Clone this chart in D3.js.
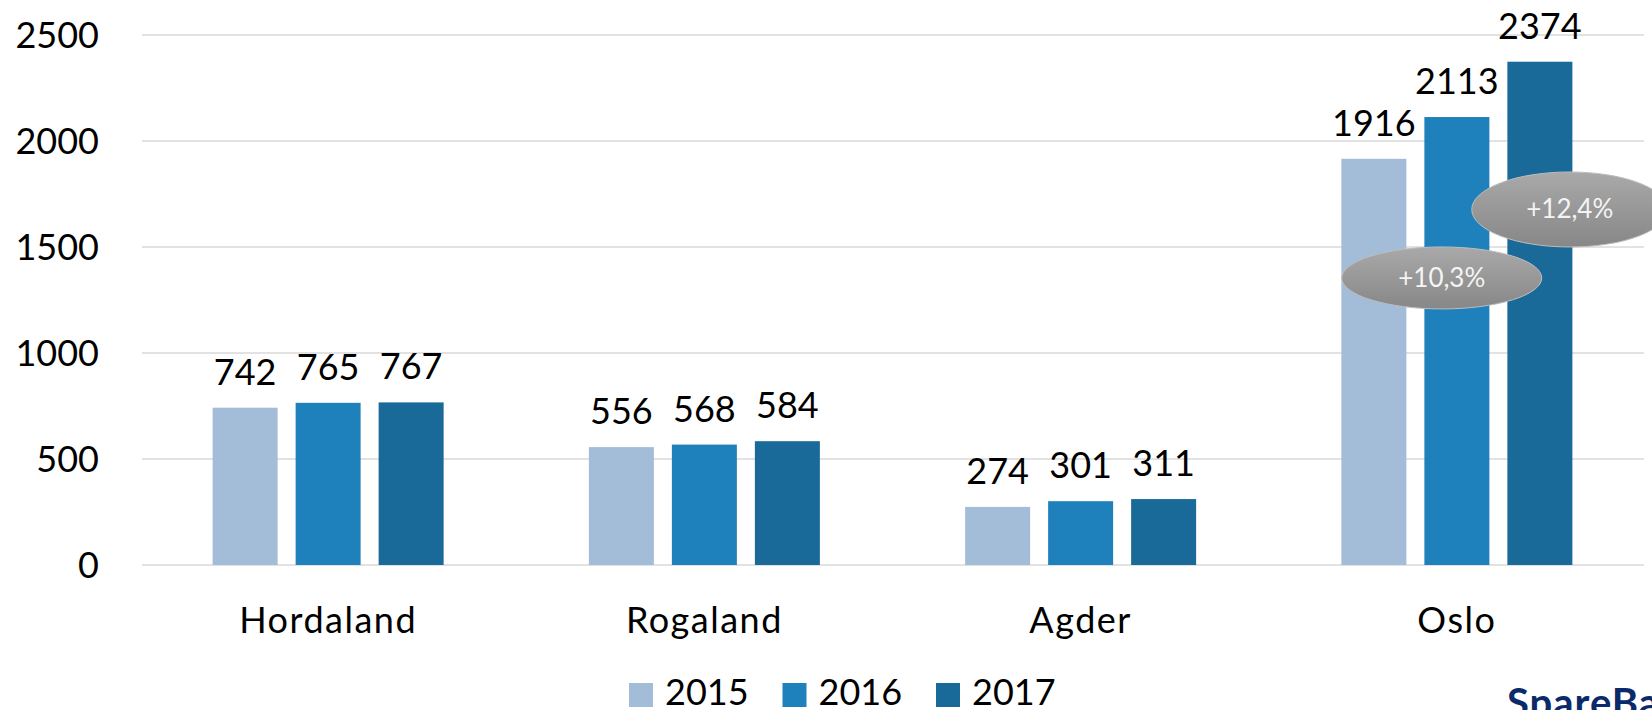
<!DOCTYPE html>
<html>
<head>
<meta charset="utf-8">
<script src="https://cdn.jsdelivr.net/npm/d3@7"></script>
<style>
  html, body { margin: 0; padding: 0; background: #fff; overflow: hidden; }
  svg { display: block; }
</style>
</head>
<body>
<div id="chart"></div>
<script>
// Data
const categories = ['Hordaland', 'Rogaland', 'Agder', 'Oslo'];
const years = ['2015', '2016', '2017'];
const values2015 = [742, 556, 274, 1916];
const values2016 = [765, 568, 301, 2113];
const values2017 = [767, 584, 311, 2374];
const yTicks = [0, 500, 1000, 1500, 2000, 2500];
const yearColors = ['#a3bcd7', '#1f81bc', '#1a6a99'];
// growth bubbles on Oslo: label and the value at the bubble centre
const growthLabels = ['+10,3%', '+12,4%'];
const growthValues = [1354, 1677];

const W = 1652, H = 710;
const font = 'Lato, "Open Sans", sans-serif';

const series = years.map((yr, i) => ({
  year: yr,
  color: yearColors[i],
  values: [values2015, values2016, values2017][i]
}));

const svg = d3.select('#chart')
  .append('svg')
  .attr('width', W)
  .attr('height', H)
  .attr('viewBox', `0 0 ${W} ${H}`);

// Scales
const x0 = d3.scaleBand().domain(categories).range([140, 1645]).padding(0);
const groupW = 231;
const x1 = d3.scaleBand()
  .domain(years)
  .range([(x0.bandwidth() - groupW) / 2, (x0.bandwidth() + groupW) / 2])
  .paddingInner(18 / 83)
  .paddingOuter(0);
const y = d3.scaleLinear().domain([0, 2500]).range([565, 35]);

// Gridlines
svg.append('g')
  .selectAll('line')
  .data(yTicks)
  .enter()
  .append('line')
  .attr('x1', 142)
  .attr('x2', 1644)
  .attr('y1', (d) => y(d))
  .attr('y2', (d) => y(d))
  .attr('stroke', '#d9d9d9')
  .attr('stroke-width', 1.5);

// Y tick labels
svg.append('g')
  .selectAll('text')
  .data(yTicks)
  .enter()
  .append('text')
  .attr('x', 99)
  .attr('y', (d) => y(d) + 13)
  .attr('text-anchor', 'end')
  .attr('font-family', font)
  .attr('font-size', '36px')
  .attr('fill', '#000')
  .text((d) => d);

// Bars
const groups = svg.append('g')
  .selectAll('g')
  .data(categories)
  .enter()
  .append('g')
  .attr('transform', (d) => `translate(${x0(d)},0)`);

const cells = groups.selectAll('g')
  .data((cat, ci) => series.map((s) => ({ cat, year: s.year, color: s.color, value: s.values[ci] })))
  .enter()
  .append('g');

cells.append('rect')
  .attr('x', (d) => x1(d.year))
  .attr('y', (d) => y(d.value))
  .attr('width', x1.bandwidth())
  .attr('height', (d) => y(0) - y(d.value))
  .attr('fill', (d) => d.color);

// Value labels
cells.append('text')
  .attr('x', (d) => x1(d.year) + x1.bandwidth() / 2)
  .attr('y', (d) => y(d.value) - 23)
  .attr('text-anchor', 'middle')
  .attr('font-family', font)
  .attr('font-size', '36px')
  .attr('fill', '#000')
  .text((d) => d.value);

// Category labels
svg.append('g')
  .selectAll('text')
  .data(categories)
  .enter()
  .append('text')
  .attr('x', (d) => x0(d) + x0.bandwidth() / 2)
  .attr('y', 633)
  .attr('text-anchor', 'middle')
  .attr('font-family', font)
  .attr('font-size', '36px')
  .attr('letter-spacing', '1.5px')
  .attr('fill', '#000')
  .text((d) => d);

// Growth bubbles
const defs = svg.append('defs');
const grad = defs.append('linearGradient')
  .attr('id', 'bubbleGrad')
  .attr('x1', 0).attr('y1', 0).attr('x2', 0).attr('y2', 1);
grad.append('stop').attr('offset', '0%').attr('stop-color', '#a9a9a9');
grad.append('stop').attr('offset', '100%').attr('stop-color', '#878787');

const oslo = x0('Oslo');
const bubbles = [
  { label: growthLabels[0], value: growthValues[0], cx: oslo + 173, rx: 100, ry: 31 },
  { label: growthLabels[1], value: growthValues[1], cx: oslo + 301, rx: 98, ry: 37.5 }
];

const bub = svg.append('g')
  .selectAll('g')
  .data(bubbles)
  .enter()
  .append('g')
  .attr('transform', (d) => `translate(${d.cx},${y(d.value)})`);

bub.append('ellipse')
  .attr('rx', (d) => d.rx)
  .attr('ry', (d) => d.ry)
  .attr('fill', 'url(#bubbleGrad)')
  .attr('stroke', '#bdbdbd')
  .attr('stroke-width', 1);

bub.append('text')
  .attr('y', 9)
  .attr('text-anchor', 'middle')
  .attr('font-family', font)
  .attr('font-size', '26px')
  .attr('fill', '#f4f4f4')
  .text((d) => d.label);

// Legend
const legend = svg.append('g')
  .selectAll('g')
  .data(series)
  .enter()
  .append('g')
  .attr('transform', (d, i) => `translate(${629 + i * 153.5},0)`);

legend.append('rect')
  .attr('x', 0)
  .attr('y', 683)
  .attr('width', 24)
  .attr('height', 24)
  .attr('fill', (d) => d.color);

legend.append('text')
  .attr('x', 36)
  .attr('y', 705)
  .attr('font-family', font)
  .attr('font-size', '36px')
  .attr('fill', '#000')
  .text((d) => d.year);

// Logo, cut off at the corner
svg.append('text')
  .attr('x', 1507)
  .attr('y', 717)
  .attr('font-family', font)
  .attr('font-weight', 'bold')
  .attr('font-size', '40px')
  .attr('letter-spacing', '1px')
  .attr('fill', '#0b2a6b')
  .text('SpareBank 1');
</script>
</body>
</html>
